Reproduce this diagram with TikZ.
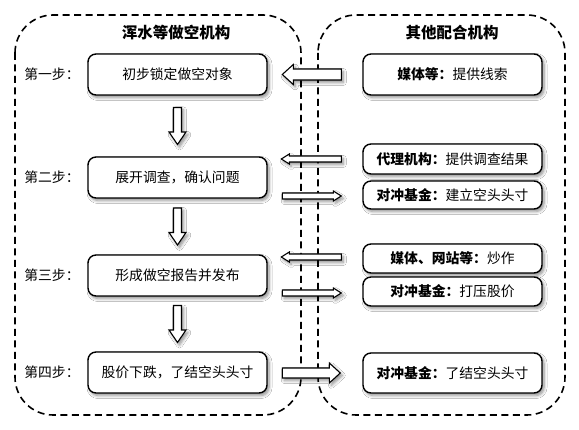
\documentclass[tikz,border=0pt]{standalone}
\usepackage{fontspec}
\setmainfont{Noto Sans CJK SC}
\usetikzlibrary{calc,shadows.blur}
\tikzset{
  shad/.style={blur shadow={shadow xshift=2pt,shadow yshift=-2.5pt,shadow blur radius=3pt,shadow blur steps=6,shadow opacity=45}},
  box/.style={draw=black,line width=1.4pt,rounded corners=8pt,fill=white,minimum width=179pt,align=center,inner sep=0pt,shad,font=\fontsize{13.8}{16}\selectfont},
  steplab/.style={font=\fontsize{13.8}{16}\selectfont,inner sep=0pt},
  title/.style={font=\fontsize{15.5}{18}\selectfont\bfseries,inner sep=0pt},
  container/.style={draw=black,line width=1.6pt,dash pattern=on 7pt off 4.5pt,rounded corners=38pt},
  arr/.style={draw=black,line width=1.1pt,fill=white,line join=miter,shad},
}
\begin{document}
\begin{tikzpicture}[x=1pt,y=-1pt]
\fill[white] (0,0) rectangle (579,430);
\useasboundingbox (0,0) rectangle (579,430);
% containers
\draw[container] (15,15) rectangle (301,415);
\draw[container] (318,15) rectangle (565,415);
% titles
\node[title] (t1) at (176,33) {浑水等做空机构};
\node[title] (t2) at (452,33) {其他配合机构};
% left boxes
\node[box,minimum height=41pt] (s1) at (177.5,74.5) {初步锁定做空对象};
\node[box,minimum height=41pt] (s2) at (177.5,177.5) {展开调查，确认问题};
\node[box,minimum height=41pt] (s3) at (177.5,275.5) {形成做空报告并发布};
\node[box,minimum height=41pt] (s4) at (177.5,372.5) {股价下跌，了结空头头寸};
% step labels
\node[steplab] (l1) at (52,74.5) {第一步：};
\node[steplab] (l2) at (52,177.5) {第二步：};
\node[steplab] (l3) at (52,275.5) {第三步：};
\node[steplab] (l4) at (52,372.5) {第四步：};
% right boxes
\node[box,minimum height=41pt] (r1) at (452.5,74.5) {\textbf{媒体等：}提供线索};
\node[box,minimum height=30pt] (r2) at (452.5,159) {\textbf{代理机构：}提供调查结果};
\node[box,minimum height=28pt] (r3) at (452.5,195) {\textbf{对冲基金：}建立空头头寸};
\node[box,minimum height=29pt] (r4) at (452.5,258.5) {\textbf{媒体、网站等：}炒作};
\node[box,minimum height=29pt] (r5) at (452.5,291.5) {\textbf{对冲基金：}打压股价};
\node[box,minimum height=40pt] (r6) at (452.5,373) {\textbf{对冲基金：}了结空头头寸};
% down arrows
\foreach \a/\b in {s1/s2,s2/s3,s3/s4}{
  \draw[arr,shift={($(\a.south)!.5!(\b.north)$)}]
    (-4,-18.5) -- (4,-18.5) -- (4,6) -- (8.5,6) -- (0,18.5) -- (-8.5,6) -- (-4,6) -- cycle;
}
% horizontal arrows (left pointing)
\draw[arr,shift={($(r1.west)+(-21,0)$)}]
  (-59,0) -- (-48,-10) -- (-48,-5.5) -- (0,-5.5) -- (0,5.5) -- (-48,5.5) -- (-48,10) -- cycle;
\draw[arr,shift={($(r2.west)+(-21,0)$)}]
  (-60,0) -- (-52,-5) -- (-52,-3) -- (0,-3) -- (0,3) -- (-52,3) -- (-52,5) -- cycle;
\draw[arr,shift={($(r4.west)+(-21,-1.5)$)}]
  (-60,0) -- (-52,-5) -- (-52,-3) -- (0,-3) -- (0,3) -- (-52,3) -- (-52,5) -- cycle;
% right pointing
\draw[arr,shift={($(r3.west)+(-21,1)$)}]
  (0,0) -- (-8,-5) -- (-8,-3) -- (-59,-3) -- (-59,3) -- (-8,3) -- (-8,5) -- cycle;
\draw[arr,shift={($(r5.west)+(-21,1.5)$)}]
  (0,0) -- (-8,-5) -- (-8,-3) -- (-59,-3) -- (-59,3) -- (-8,3) -- (-8,5) -- cycle;
\draw[arr,shift={($(r6.west)+(-22,0)$)}]
  (0,0) -- (-11,-10) -- (-11,-5) -- (-58,-5) -- (-58,5) -- (-11,5) -- (-11,10) -- cycle;
\end{tikzpicture}
\end{document}
